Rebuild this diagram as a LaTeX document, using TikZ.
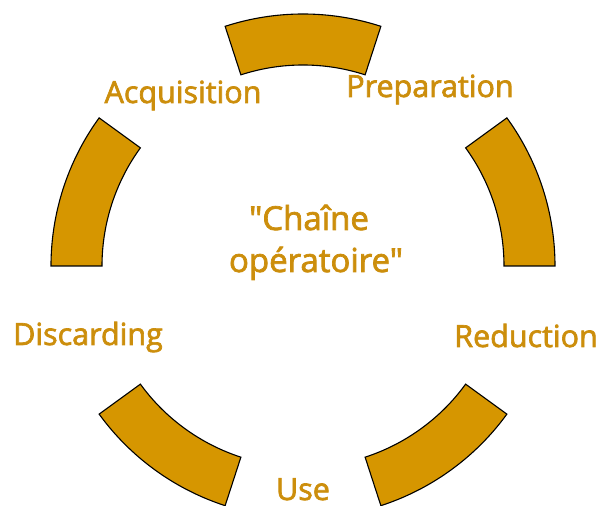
\documentclass[tikz,border=0pt]{standalone}
\usepackage{fontspec}
\newfontfamily\labfont{Open Sans}[Ligatures=TeXOff, FakeBold=2.2]
\definecolor{segfill}{RGB}{214,150,0}
\definecolor{labtext}{RGB}{204,142,12}
\tikzset{
  seg/.style={draw=black, line width=1.1pt, fill=segfill, line join=miter},
  lab/.style={text=labtext, font=\labfont\fontsize{30.5}{36}\selectfont, anchor=base, inner sep=0pt},
  biglab/.style={lab, font=\labfont\fontsize{33}{40}\selectfont},
}
\begin{document}
\begin{tikzpicture}[x=1pt,y=1pt]
\useasboundingbox (0,0) rectangle (600,506);
\coordinate (c) at (303,240);
\foreach \a in {0,72,144,216,288}{
  \draw[seg, shift={(c)}] (\a:252pt) arc[start angle=\a, end angle=\a+36, radius=252pt]
     -- (\a+36:201pt) arc[start angle=\a+36, end angle=\a, radius=201pt] -- cycle;
}
\node[lab] (acq) at (183,403) {Acquisition};
\node[lab] (prep) at (430,409) {Preparation};
\node[lab] (red) at (526,159) {Reduction};
\node[lab] (use) at (303,6) {Use};
\node[lab] (disc) at (88,161) {Discarding};
\node[biglab] (t1) at (309,276) {"Chaîne};
\node[biglab] (t2) at (316,234) {opératoire"};
\end{tikzpicture}
\end{document}
